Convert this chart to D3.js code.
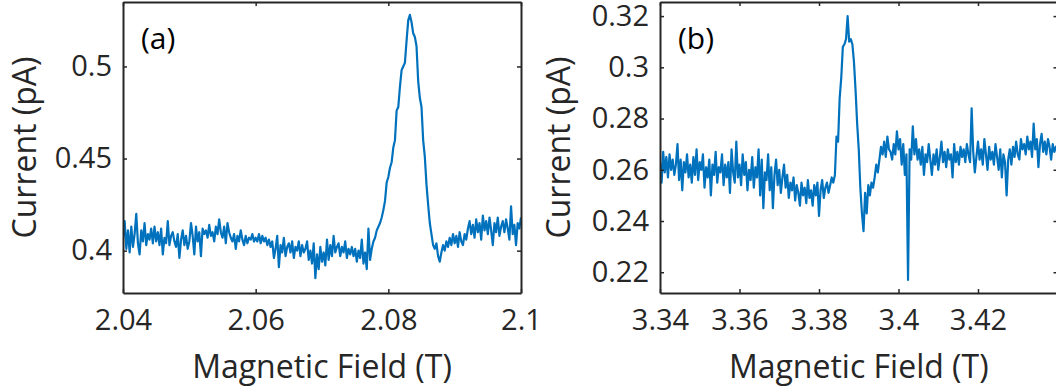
<!DOCTYPE html>
<html>
<head>
<meta charset="utf-8">
<script src="https://cdn.jsdelivr.net/npm/d3@7"></script>
<style>
  html, body { margin: 0; padding: 0; background: #fff; }
  svg { display: block; }
  .axis .tick text { font-family: "Open Sans", sans-serif; font-size: 29px; fill: #262626; }
  .axis path, .axis line { stroke: #262626; }
  .label { font-family: "Open Sans", sans-serif; font-size: 32px; fill: #262626; }
  .tag { font-family: "Open Sans", sans-serif; font-size: 30px; fill: #000; }
</style>
</head>
<body>
<div id="chart"></div>
<script>
// panel (a): field sweep 2.04 -> 2.10 T, 0.25 mT steps
const fieldA = d3.range(241).map(i => 2.04 + i * 0.00025);
const currentA = [
  0.407, 0.416, 0.401, 0.411, 0.399, 0.413, 0.402, 0.409, 0.420, 0.404,
  0.398, 0.411, 0.405, 0.415, 0.403, 0.409, 0.406, 0.412, 0.404, 0.413,
  0.405, 0.410, 0.403, 0.412, 0.398, 0.407, 0.404, 0.416, 0.403, 0.408,
  0.410, 0.405, 0.402, 0.409, 0.396, 0.406, 0.411, 0.403, 0.408, 0.401,
  0.405, 0.415, 0.408, 0.398, 0.413, 0.405, 0.410, 0.397, 0.412, 0.409,
  0.411, 0.407, 0.414, 0.408, 0.410, 0.405, 0.413, 0.409, 0.417, 0.410,
  0.407, 0.413, 0.404, 0.415, 0.410, 0.407, 0.405, 0.409, 0.401, 0.408,
  0.405, 0.411, 0.406, 0.403, 0.408, 0.404, 0.407, 0.406, 0.409, 0.405,
  0.407, 0.405, 0.409, 0.404, 0.408, 0.405, 0.407, 0.403, 0.406, 0.402,
  0.405, 0.396, 0.401, 0.408, 0.391, 0.403, 0.399, 0.407, 0.397, 0.402,
  0.404, 0.399, 0.405, 0.396, 0.402, 0.400, 0.405, 0.397, 0.403, 0.399,
  0.401, 0.405, 0.395, 0.400, 0.393, 0.404, 0.385, 0.398, 0.390, 0.402,
  0.394, 0.399, 0.392, 0.406, 0.395, 0.403, 0.397, 0.408, 0.399, 0.402,
  0.404, 0.397, 0.402, 0.399, 0.405, 0.396, 0.401, 0.398, 0.402, 0.397,
  0.401, 0.394, 0.400, 0.396, 0.406, 0.393, 0.399, 0.390, 0.412, 0.395,
  0.401, 0.405, 0.407, 0.411, 0.413, 0.415, 0.418, 0.422, 0.427, 0.437,
  0.440, 0.445, 0.448, 0.456, 0.460, 0.476, 0.478, 0.489, 0.498, 0.500,
  0.502, 0.514, 0.525, 0.528, 0.524, 0.518, 0.516, 0.511, 0.492, 0.483,
  0.478, 0.460, 0.451, 0.436, 0.425, 0.415, 0.409, 0.403, 0.401, 0.404,
  0.397, 0.394, 0.399, 0.403, 0.400, 0.405, 0.402, 0.407, 0.403, 0.409,
  0.404, 0.408, 0.402, 0.410, 0.405, 0.403, 0.409, 0.406, 0.412, 0.416,
  0.409, 0.414, 0.407, 0.417, 0.410, 0.415, 0.406, 0.419, 0.411, 0.416,
  0.409, 0.418, 0.411, 0.403, 0.415, 0.410, 0.418, 0.408, 0.413, 0.416,
  0.410, 0.417, 0.412, 0.406, 0.424, 0.409, 0.414, 0.403, 0.415, 0.412,
  0.418
];
const xTicksA = [2.04, 2.06, 2.08, 2.1];
const yTicksA = [0.4, 0.45, 0.5];

// panel (b): field sweep 3.34 -> 3.44 T, 0.4 mT steps
const fieldB = d3.range(251).map(i => 3.34 + i * 0.0004);
const currentB = [
  0.263, 0.255, 0.267, 0.259, 0.265, 0.257, 0.266, 0.260, 0.264, 0.258,
  0.262, 0.270, 0.256, 0.264, 0.252, 0.263, 0.259, 0.266, 0.257, 0.262,
  0.255, 0.265, 0.258, 0.268, 0.256, 0.263, 0.260, 0.266, 0.253, 0.261,
  0.257, 0.264, 0.250, 0.262, 0.258, 0.267, 0.255, 0.261, 0.259, 0.266,
  0.254, 0.262, 0.257, 0.263, 0.251, 0.268, 0.259, 0.255, 0.271, 0.257,
  0.262, 0.254, 0.266, 0.258, 0.263, 0.252, 0.260, 0.256, 0.265, 0.253,
  0.261, 0.257, 0.268, 0.250, 0.264, 0.245, 0.259, 0.256, 0.266, 0.252,
  0.261, 0.245, 0.258, 0.264, 0.254, 0.260, 0.251, 0.257, 0.262, 0.253,
  0.258, 0.249, 0.255, 0.252, 0.257, 0.248, 0.254, 0.251, 0.246, 0.255,
  0.250, 0.253, 0.247, 0.256, 0.249, 0.252, 0.246, 0.254, 0.250, 0.255,
  0.242, 0.252, 0.256, 0.249, 0.253, 0.255, 0.251, 0.254, 0.257, 0.255,
  0.258, 0.273, 0.271, 0.288, 0.296, 0.308, 0.309, 0.311, 0.320, 0.310,
  0.311, 0.309, 0.302, 0.291, 0.278, 0.268, 0.253, 0.243, 0.236, 0.251,
  0.243, 0.254, 0.250, 0.255, 0.253, 0.257, 0.262, 0.259, 0.264, 0.269,
  0.266, 0.271, 0.265, 0.273, 0.268, 0.267, 0.264, 0.270, 0.266, 0.275,
  0.268, 0.272, 0.262, 0.270, 0.258, 0.266, 0.217, 0.268, 0.264, 0.277,
  0.266, 0.272, 0.264, 0.268, 0.262, 0.269, 0.258, 0.266, 0.263, 0.270,
  0.264, 0.258, 0.266, 0.262, 0.268, 0.260, 0.265, 0.271, 0.263, 0.267,
  0.261, 0.268, 0.264, 0.266, 0.257, 0.270, 0.263, 0.267, 0.262, 0.269,
  0.265, 0.268, 0.263, 0.270, 0.266, 0.263, 0.284, 0.267, 0.259, 0.265,
  0.271, 0.264, 0.268, 0.262, 0.272, 0.266, 0.260, 0.269, 0.264, 0.267,
  0.262, 0.270, 0.265, 0.260, 0.268, 0.257, 0.266, 0.263, 0.250, 0.264,
  0.268, 0.262, 0.269, 0.265, 0.271, 0.266, 0.264, 0.272, 0.268, 0.270,
  0.266, 0.273, 0.268, 0.271, 0.265, 0.278, 0.268, 0.272, 0.261, 0.270,
  0.274, 0.267, 0.271, 0.266, 0.272, 0.269, 0.264, 0.270, 0.267, 0.269,
  0.268
];
const xTicksB = [3.34, 3.36, 3.38, 3.4, 3.42];
const yTicksB = [0.22, 0.24, 0.26, 0.28, 0.3, 0.32];

const lineColor = "#0072BD";
const W = 1056, H = 390;

let svg = d3.select("#chart")
  .append("svg")
  .attr("width", W)
  .attr("height", H);

function drawPanel(opts) {
  let x = d3.scaleLinear().domain(opts.xDomain).range([opts.left, opts.right]);
  let y = d3.scaleLinear().domain(opts.yDomain).range([opts.bottom, opts.top]);

  let g = svg.append("g");

  g.append("clipPath")
    .attr("id", opts.id + "-clip")
    .append("rect")
    .attr("x", opts.left).attr("y", opts.top)
    .attr("width", opts.right - opts.left)
    .attr("height", opts.bottom - opts.top);

  let pts = opts.xs.map((v, i) => [v, opts.ys[i]]);
  g.append("path")
    .datum(pts)
    .attr("clip-path", "url(#" + opts.id + "-clip)")
    .attr("fill", "none")
    .attr("stroke", lineColor)
    .attr("stroke-width", 2.2)
    .attr("stroke-linejoin", "round")
    .attr("d", d3.line().x(d => x(d[0])).y(d => y(d[1])));

  let fmt = d => String(d);

  // bottom + left axes with labels, ticks pointing inward
  g.append("g")
    .attr("class", "axis")
    .attr("transform", "translate(0," + opts.bottom + ")")
    .call(d3.axisBottom(x).tickValues(opts.xTicks).tickFormat(fmt)
      .tickSizeInner(-4).tickSizeOuter(0).tickPadding(16));
  g.append("g")
    .attr("class", "axis")
    .attr("transform", "translate(" + opts.left + ",0)")
    .call(d3.axisLeft(y).tickValues(opts.yTicks).tickFormat(fmt)
      .tickSizeInner(-4).tickSizeOuter(0).tickPadding(11));

  // mirrored top + right axes (box)
  g.append("g")
    .attr("class", "axis")
    .attr("transform", "translate(0," + opts.top + ")")
    .call(d3.axisTop(x).tickValues(opts.xTicks).tickFormat("")
      .tickSizeInner(-4).tickSizeOuter(0));
  g.append("g")
    .attr("class", "axis")
    .attr("transform", "translate(" + opts.right + ",0)")
    .call(d3.axisRight(y).tickValues(opts.yTicks).tickFormat("")
      .tickSizeInner(-4).tickSizeOuter(0));

  g.selectAll(".axis path").attr("stroke-width", 2);
  g.selectAll(".axis line").attr("stroke-width", 1.5);

  g.append("text")
    .attr("class", "label")
    .attr("x", (opts.left + opts.right) / 2)
    .attr("y", 378)
    .attr("text-anchor", "middle")
    .text("Magnetic Field (T)");

  g.append("text")
    .attr("class", "label")
    .attr("transform", "translate(" + (opts.left - opts.ylabelGap) + "," + ((opts.top + opts.bottom) / 2) + ") rotate(-90)")
    .attr("text-anchor", "middle")
    .text("Current (pA)");

  g.append("text")
    .attr("class", "tag")
    .attr("x", opts.left + 18)
    .attr("y", 49)
    .text(opts.tag);
}

drawPanel({
  id: "a", tag: "(a)",
  xs: fieldA, ys: currentA,
  xDomain: [2.04, 2.1], yDomain: [0.377, 0.535],
  xTicks: xTicksA, yTicks: yTicksA,
  left: 123, right: 521, top: 2, bottom: 293, ylabelGap: 87
});

drawPanel({
  id: "b", tag: "(b)",
  xs: fieldB, ys: currentB,
  xDomain: [3.34, 3.44], yDomain: [0.2119, 0.3255],
  xTicks: xTicksB, yTicks: yTicksB,
  left: 660, right: 1057.5, top: 2, bottom: 293, ylabelGap: 90
});
</script>
</body>
</html>
